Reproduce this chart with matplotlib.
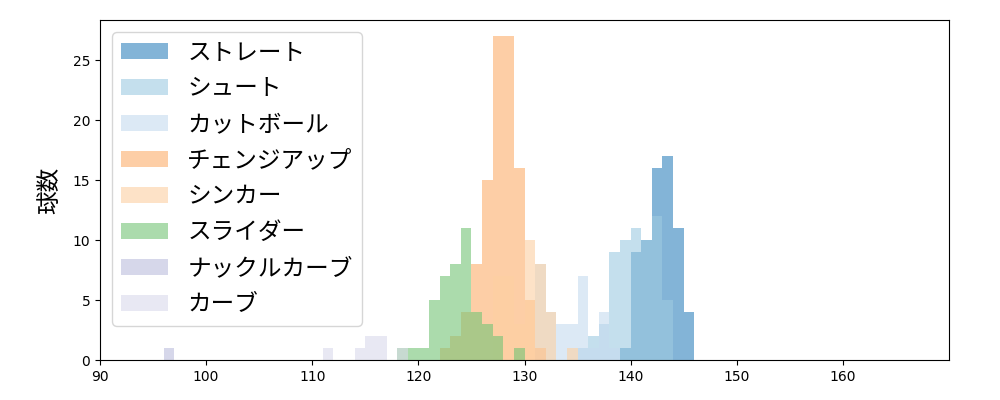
import matplotlib.pyplot as plt

plt.rcParams['font.family'] = ['Noto Sans CJK JP', 'DejaVu Sans']

# 球種ごとの度数 (1km/h 刻み, 左端の値)
pitch_names = ['ストレート', 'シュート', 'カットボール', 'チェンジアップ',
               'シンカー', 'スライダー', 'ナックルカーブ', 'カーブ']

straight_left = [139, 140, 141, 142, 143, 144, 145]
straight_count = [1, 9, 10, 16, 17, 11, 4]

shoot_left = [135, 136, 137, 138, 139, 140, 141, 142, 143]
shoot_count = [1, 2, 3, 9, 10, 11, 10, 12, 5]

cutter_left = [131, 132, 133, 134, 135, 136, 137, 138]
cutter_count = [8, 4, 3, 3, 7, 1, 4, 1]

changeup_left = [122, 123, 124, 125, 126, 127, 128, 129, 130, 131]
changeup_count = [1, 2, 4, 8, 15, 27, 27, 16, 5, 1]

sinker_left = [127, 128, 129, 130, 131, 132, 133, 134]
sinker_count = [7, 7, 3, 10, 8, 4, 0, 1]

slider_left = [118, 119, 120, 121, 122, 123, 124, 125, 126, 127, 128, 129]
slider_count = [1, 1, 1, 5, 7, 8, 11, 4, 3, 2, 0, 1]

knuckle_left = [96]
knuckle_count = [1]

curve_left = [111, 112, 113, 114, 115, 116, 117, 118]
curve_count = [1, 0, 0, 1, 2, 2, 0, 1]

all_left = [straight_left, shoot_left, cutter_left, changeup_left,
            sinker_left, slider_left, knuckle_left, curve_left]
all_count = [straight_count, shoot_count, cutter_count, changeup_count,
             sinker_count, slider_count, knuckle_count, curve_count]

cmap = plt.get_cmap('tab20c')
color_idx = [0, 2, 3, 6, 7, 9, 14, 15]

fig, ax = plt.subplots(figsize=(10, 4), dpi=100)
fig.subplots_adjust(left=0.1, right=0.949, top=0.95, bottom=0.1)

for name, left, count, ci in zip(pitch_names, all_left, all_count, color_idx):
    edges = left + [left[-1] + 1]
    ax.hist(left, bins=edges, weights=count, color=cmap(ci), alpha=0.6,
            label=name)

ax.set_xlim(90, 170)
ax.set_ylim(0, 27 * 1.05)
ax.set_xticks(range(90, 170, 10))
ax.set_yticks(range(0, 30, 5))
for lbl in ax.get_xticklabels() + ax.get_yticklabels():
    lbl.set_family('DejaVu Sans')
ax.set_ylabel('球数', fontsize=17, labelpad=8)
ax.legend(loc='upper left', fontsize=17, labelspacing=0.55)

fig.savefig('out.png')
